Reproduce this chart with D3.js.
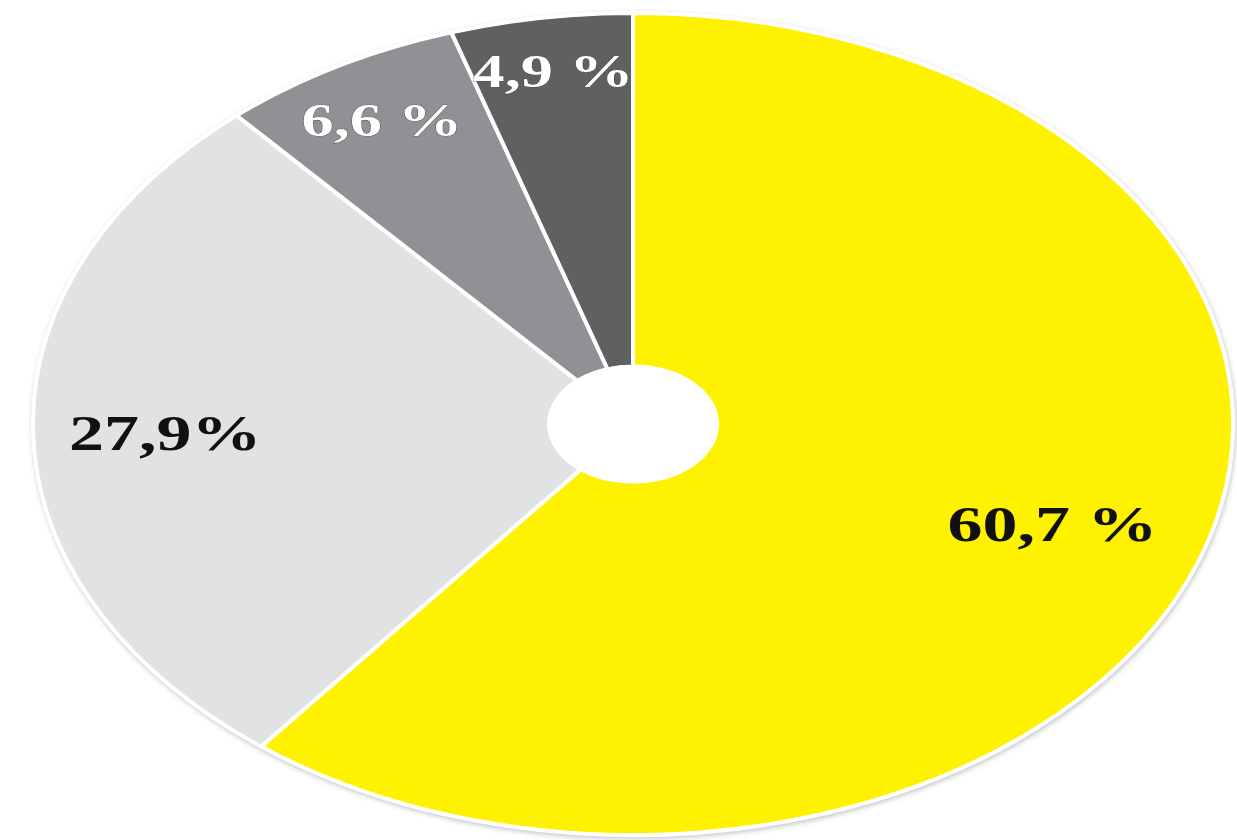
<!DOCTYPE html>
<html lang="en">
<head>
    <meta charset="UTF-8">
    <title>Pie</title>
    <style>
        body { margin: 0; background: #ffffff; }
        svg { display: block; }
        text {
            font-family: "Liberation Serif", "DejaVu Serif", serif;
            font-weight: bold;
        }
    </style>
    <script src="https://d3js.org/d3.v7.min.js"></script>
</head>
<body>
    <svg width="1237" height="840"></svg>

    <script>
        // дані діаграми
        const labels = ["60,7 %", "27,9%", "6,6 %", "4,9 %"];
        const values = [60.7, 27.9, 6.6, 4.9];
        const colors = ["#fff200", "#e1e2e3", "#8f9194", "#5e6062"];
        const textColors = ["#111111", "#111111", "#ffffff", "#ffffff"];
        const labelRadius = [0.74, 0.78, 0.85, 0.87]; // частка радіуса для підписів

        const svg = d3.select("svg");
        const cx = 633, cy = 424;
        const rx = 600, ry = 411;
        const R = 100; // умовний радіус, потім масштабуємо в еліпс
        const hole = 14;

        const defs = svg.append("defs");
        defs.append("filter").attr("id", "blur")
            .attr("x", "-5%").attr("y", "-5%").attr("width", "110%").attr("height", "110%")
            .append("feGaussianBlur").attr("stdDeviation", 2.5);

        const root = svg.append("g").attr("transform", `translate(${cx},${cy})`);

        // тінь навколо диска
        root.append("ellipse")
            .attr("cx", 1).attr("cy", 2)
            .attr("rx", rx + 2).attr("ry", ry + 2)
            .style("fill", "#c4c6c8")
            .attr("filter", "url(#blur)");

        const pie = d3.pie().sort(null).value(d => d)(values);

        const arc = d3.arc().innerRadius(hole).outerRadius(R);

        const disc = root.append("g").attr("transform", `scale(${rx / R},${ry / R})`);

        disc.selectAll("path.slice")
            .data(pie)
            .enter().append("path")
            .attr("class", "slice")
            .attr("d", arc)
            .style("fill", (d, i) => colors[i])
            .style("stroke", "#ffffff")
            .style("stroke-width", 4)
            .style("stroke-linejoin", "round")
            .attr("vector-effect", "non-scaling-stroke");

        // отвір посередині
        disc.append("circle")
            .attr("r", hole)
            .style("fill", "#ffffff")
            .style("stroke", "#ffffff")
            .style("stroke-width", 3)
            .attr("vector-effect", "non-scaling-stroke");

        // білий обідок
        disc.append("circle")
            .attr("r", R)
            .style("fill", "none")
            .style("stroke", "#ffffff")
            .style("stroke-width", 3)
            .attr("vector-effect", "non-scaling-stroke");

        // підписи
        root.selectAll("text.lbl")
            .data(pie)
            .enter().append("text")
            .attr("class", "lbl")
            .attr("transform", (d, i) => {
                const la = d3.arc().innerRadius(R * labelRadius[i]).outerRadius(R * labelRadius[i]);
                const c = la.centroid(d);
                return `translate(${c[0] * rx / R},${c[1] * ry / R}) scale(1.4,1)`;
            })
            .attr("text-anchor", "middle")
            .attr("dy", "0.35em")
            .style("font-size", (d, i) => i > 1 ? "46px" : "50px")
            .style("fill", (d, i) => textColors[i])
            .style("stroke", (d, i) => i > 1 ? "#3a3c3e" : "none")
            .style("stroke-width", 0.6)
            .style("paint-order", "stroke")
            .text((d, i) => labels[i]);
    </script>
</body>
</html>
